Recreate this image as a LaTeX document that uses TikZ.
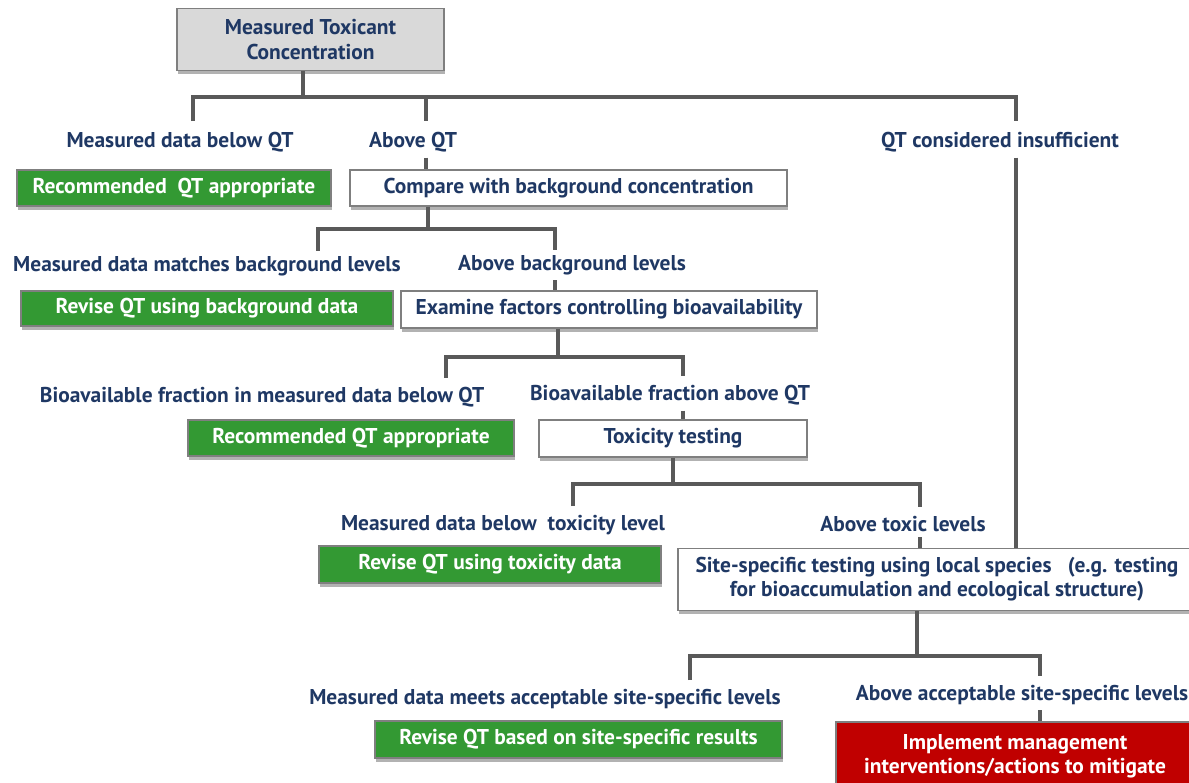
\documentclass[tikz,border=0pt]{standalone}
\usepackage{fontspec}
\setmainfont{PT Sans}
\usetikzlibrary{shadows}
\usetikzlibrary{calc}

\definecolor{navy}{RGB}{31,56,100}
\definecolor{boxgreen}{RGB}{51,153,51}
\definecolor{boxred}{RGB}{192,0,0}
\definecolor{linegray}{RGB}{89,89,89}
\definecolor{framegray}{RGB}{127,127,127}
\definecolor{topgray}{RGB}{217,217,217}

\begin{document}
\begin{tikzpicture}[x=0.02cm, y=-0.02cm]
        % Define styles for shapes
        \tikzset{
            basebox/.style={draw=framegray, line width=0.8pt, inner sep=2pt, align=center,
                font=\fontsize{12.2}{13.8}\selectfont\bfseries,
                drop shadow={shadow xshift=0.5pt, shadow yshift=-2pt, opacity=0.3, fill=black}},
            whitebox/.style={basebox, fill=white, text=navy},
            greenbox/.style={basebox, fill=boxgreen, text=white},
            redbox/.style={basebox, fill=boxred, text=white},
            topbox/.style={basebox, fill=topgray, text=navy},
            branch/.style={text=navy, inner sep=0pt, font=\fontsize{12.2}{13.8}\selectfont\bfseries},
            conn/.style={draw=linegray, line width=2.2pt}
        }
        \useasboundingbox (0,0) rectangle (1189,783);

        % Draw boxes
        \node[topbox, minimum width=5.34cm, minimum height=1.24cm] (measured) at (310.5,39.5) {Measured Toxicant\\Concentration};
        \node[greenbox, minimum width=6.28cm, minimum height=0.72cm] (recqt1) at (174,188) {Recommended\ \ QT appropriate};
        \node[whitebox, minimum width=8.74cm, minimum height=0.72cm] (compare) at (568.5,188) {Compare with background concentration};
        \node[greenbox, minimum width=7.44cm, minimum height=0.70cm] (revbg) at (207,308.5) {Revise QT using background data};
        \node[whitebox, minimum width=8.32cm, minimum height=0.74cm] (examine) at (609,309.5) {Examine factors controlling bioavailability};
        \node[greenbox, minimum width=6.52cm, minimum height=0.72cm] (recqt2) at (351,438) {Recommended QT appropriate};
        \node[whitebox, minimum width=5.36cm, minimum height=0.74cm] (toxtest) at (673,438.5) {Toxicity testing};
        \node[greenbox, minimum width=6.84cm, minimum height=0.74cm] (revtox) at (490,564.5) {Revise QT using toxicity data};
        \node[whitebox, minimum width=10.36cm, minimum height=1.24cm] (sitetest) at (937,579.5)
            {Site-specific testing using local species\ \ \ (e.g. testing\\for bioaccumulation and ecological structure)};
        \node[greenbox, minimum width=8.14cm, minimum height=0.74cm] (revsite) at (578.5,739.5) {Revise QT based on site-specific results};
        \node[redbox, minimum width=7.16cm, minimum height=1.36cm] (mitigate) at (1015,756) {Implement management\\interventions/actions to mitigate};

        % Branch labels
        \node[branch] (belowqt) at (180,142) {Measured data below QT};
        \node[branch] (aboveqt) at (413,142) {Above QT};
        \node[branch] (insuff) at (1000,142) {QT considered insufficient};
        \node[branch] (matchbg) at (207,266) {Measured data matches background levels};
        \node[branch] (abovebg) at (572,265) {Above background levels};
        \node[branch] (bioblw) at (262,397) {Bioavailable fraction in measured data below QT};
        \node[branch] (bioabv) at (670,395) {Bioavailable fraction above QT};
        \node[branch] (blwtox) at (503,525) {Measured data below\ \ toxicity level};
        \node[branch] (abvtox) at (903,524) {Above toxic levels};
        \node[branch] (meetsite) at (545,699) {Measured data meets acceptable site-specific levels};
        \node[branch] (abvsite) at (1022,695) {Above acceptable site-specific levels};

        % Junction points
        \coordinate (j1) at (303,97);   \coordinate (j1l) at (193,97);  \coordinate (j1m) at (426,97);  \coordinate (j1r) at (1016,97);
        \coordinate (j2) at (428,229);  \coordinate (j2l) at (318,229); \coordinate (j2r) at (555,229);
        \coordinate (j3) at (558,357);  \coordinate (j3l) at (446,357); \coordinate (j3r) at (683,357);
        \coordinate (j4) at (673,484);  \coordinate (j4l) at (573,484); \coordinate (j4r) at (920,484);
        \coordinate (j5) at (917,656);  \coordinate (j5l) at (690,656); \coordinate (j5r) at (1040,656);

        % Draw connectors
        \draw[conn] (measured.south -| j1) -- (j1);
        \draw[conn] ([yshift=6pt]belowqt.north -| j1l) -- (j1l) -- (j1r) -- ([yshift=6pt]insuff.north -| j1r);
        \draw[conn] (j1m) -- ([yshift=6pt]aboveqt.north -| j1m);
        \draw[conn] ([yshift=-3pt]aboveqt.south -| j1m) -- (compare.north -| j1m);
        \draw[conn] ([yshift=-3pt]insuff.south -| j1r) -- (sitetest.north -| j1r);

        \draw[conn] (compare.south -| j2) -- (j2);
        \draw[conn] ([yshift=3pt]matchbg.north -| j2l) -- (j2l) -- (j2r) -- ([yshift=3pt]abovebg.north -| j2r);
        \draw[conn] ([yshift=-3pt]abovebg.south -| j2r) -- (examine.north -| j2r);

        \draw[conn] (examine.south -| j3) -- (j3);
        \draw[conn] ([yshift=5pt]bioblw.north -| j3l) -- (j3l) -- (j3r) -- ([yshift=5pt]bioabv.north -| j3r);
        \draw[conn] ([yshift=-3pt]bioabv.south -| j3r) -- (toxtest.north -| j3r);

        \draw[conn] (toxtest.south -| j4) -- (j4);
        \draw[conn] ([yshift=5pt]blwtox.north -| j4l) -- (j4l) -- (j4r) -- ([yshift=5pt]abvtox.north -| j4r);
        \draw[conn] ([yshift=-3pt]abvtox.south -| j4r) -- (sitetest.north -| j4r);

        \draw[conn] (sitetest.south -| j5) -- (j5);
        \draw[conn] ([yshift=5pt]meetsite.north -| j5l) -- (j5l) -- (j5r) -- ([yshift=5pt]abvsite.north -| j5r);
        \draw[conn] ([yshift=-3pt]abvsite.south -| j5r) -- (mitigate.north -| j5r);
    \end{tikzpicture}
\end{document}
